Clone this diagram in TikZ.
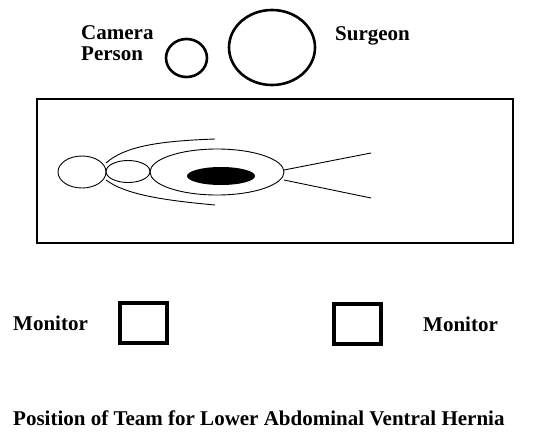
\documentclass[tikz,border=0pt]{standalone}
\usepackage{fontspec}
\setmainfont{Liberation Serif}
\usetikzlibrary{shapes.geometric}

\begin{document}
\begin{tikzpicture}[x=1pt,y=-1pt]
\tikzstyle{lbl}=[font=\fontsize{21}{21}\selectfont\bfseries,inner sep=0pt,align=left]
\tikzstyle{seat}=[draw,ellipse,line width=2.6pt,inner sep=0pt]
\tikzstyle{screen}=[draw,line width=4pt,inner sep=0pt,minimum width=47pt,minimum height=40pt]
\useasboundingbox (0,0) rectangle (534,434);
% team at the head end
\node[seat,minimum width=41pt,minimum height=38pt] (cam) at (186.5,58) {};
\node[seat,minimum width=86pt,minimum height=75pt] (surg) at (272,47.5) {};
\node[lbl,anchor=west] (camlbl) at (81,43) {Camera\\Person};
\node[lbl,anchor=west] (surglbl) at (335,36) {Surgeon};
% operating table
\node[draw,line width=1.3pt,minimum width=476pt,minimum height=144pt,inner sep=0pt] (table) at (275,171) {};
% patient
\begin{scope}[line width=0.9pt]
\draw (82,172) ellipse [x radius=24,y radius=16];
\draw (128,171.5) ellipse [x radius=22,y radius=11];
\draw (217,172) ellipse [x radius=67,y radius=23];
\fill (221,176) ellipse [x radius=34,y radius=9];
\draw (106,163) .. controls (125,146) and (160,141) .. (215,139);
\draw (106,180) .. controls (125,194) and (160,200) .. (215,205);
\draw (284,170) -- (371,153);
\draw (284,180) -- (371,198);
\end{scope}
% monitors
\node[screen] (mon1) at (143.5,323) {};
\node[screen] (mon2) at (357.5,324) {};
\node[lbl,anchor=west] (mon1lbl) at (13,323) {Monitor};
\node[lbl,anchor=west] (mon2lbl) at (423,324) {Monitor};
\node[lbl,anchor=west] (title) at (13,418) {Position of Team for Lower Abdominal Ventral Hernia};
\end{tikzpicture}
\end{document}
